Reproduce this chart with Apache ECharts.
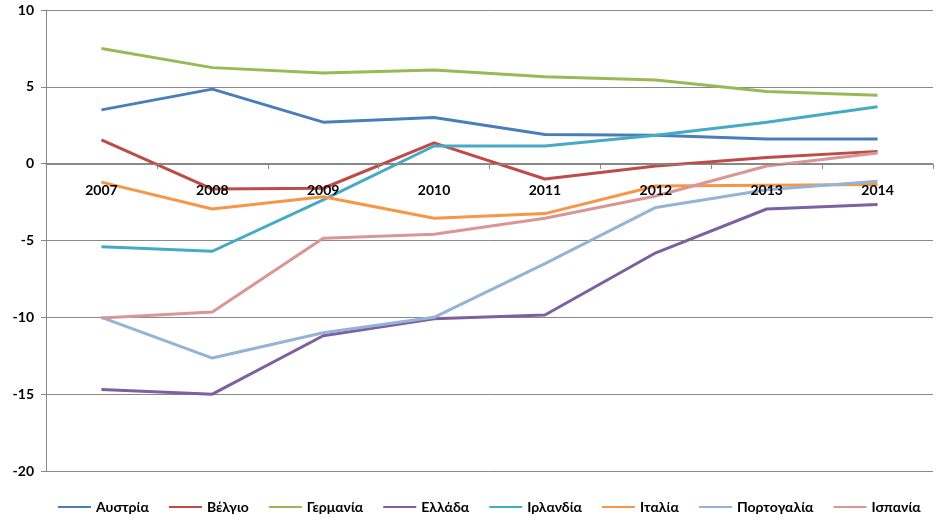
<!DOCTYPE html>
<html><head><meta charset="utf-8">
<script src="https://cdn.jsdelivr.net/npm/echarts@6/dist/echarts.min.js"></script>
<style>html,body{margin:0;padding:0;background:#fff}#c{width:950px;height:523px}</style>
</head><body><div id="c"></div>
<script>
const years = ['2007','2008','2009','2010','2011','2012','2013','2014'];
const names = ['Αυστρία','Βέλγιο','Γερμανία','Ελλάδα','Ιρλανδία','Ιταλία','Πορτογαλία','Ισπανία'];
const austria  = [3.5, 4.85, 2.7, 3.0, 1.9, 1.85, 1.6, 1.6];
const belgium  = [1.55, -1.65, -1.6, 1.35, -1.0, -0.15, 0.4, 0.8];
const germany  = [7.5, 6.25, 5.9, 6.1, 5.65, 5.45, 4.7, 4.45];
const greece   = [-14.7, -15.0, -11.2, -10.1, -9.85, -5.8, -2.95, -2.65];
const ireland  = [-5.4, -5.7, -2.35, 1.15, 1.15, 1.85, 2.7, 3.7];
const italy    = [-1.2, -2.95, -2.15, -3.55, -3.25, -1.45, -1.4, -1.35];
const portugal = [-10.0, -12.65, -11.0, -10.0, -6.5, -2.85, -1.7, -1.15];
const spain    = [-10.05, -9.65, -4.85, -4.6, -3.55, -2.1, -0.15, 0.7];
const seriesData = [austria, belgium, germany, greece, ireland, italy, portugal, spain];
const colors = ['#4A7EBB','#BE4B48','#98B954','#7D60A0','#46AAC5','#F79646','#95B3D7','#D99694'];

const chart = echarts.init(document.getElementById('c'));
chart.setOption({
  animation: false,
  color: colors,
  grid: {left: 46, right: 17, top: 10, bottom: 52, containLabel: false},
  legend: {
    bottom: 4, left: 53,
    icon: 'rect', itemWidth: 33, itemHeight: 2, itemGap: 20,
    textStyle: {fontFamily: 'Lato', fontWeight: 'bold', fontSize: 14, color: '#000'},
    data: names
  },
  xAxis: {
    type: 'category', data: years, boundaryGap: true, offset: -307, z: 10,
    axisLine: {onZero: false, lineStyle: {color: '#888', width: 1}},
    axisTick: {show: true, length: 5, lineStyle: {color: '#888'}},
    axisLabel: {fontFamily: 'Lato', fontWeight: 'bold', fontSize: 14, color: '#000', margin: 19}
  },
  yAxis: {
    type: 'value', min: -20, max: 10, interval: 5,
    axisLine: {show: true, lineStyle: {color: '#888', width: 1}},
    axisTick: {show: true, length: 5, lineStyle: {color: '#888'}},
    splitLine: {show: true, lineStyle: {color: '#888', width: 1}},
    axisLabel: {fontFamily: 'Lato', fontWeight: 'bold', fontSize: 14, color: '#000', margin: 12}
  },
  series: names.map((n, i) => ({
    name: n, type: 'line', data: seriesData[i], showSymbol: false, symbol: 'none',
    lineStyle: {width: 3, color: colors[i]}, itemStyle: {color: colors[i]}
  }))
});
</script></body></html>
